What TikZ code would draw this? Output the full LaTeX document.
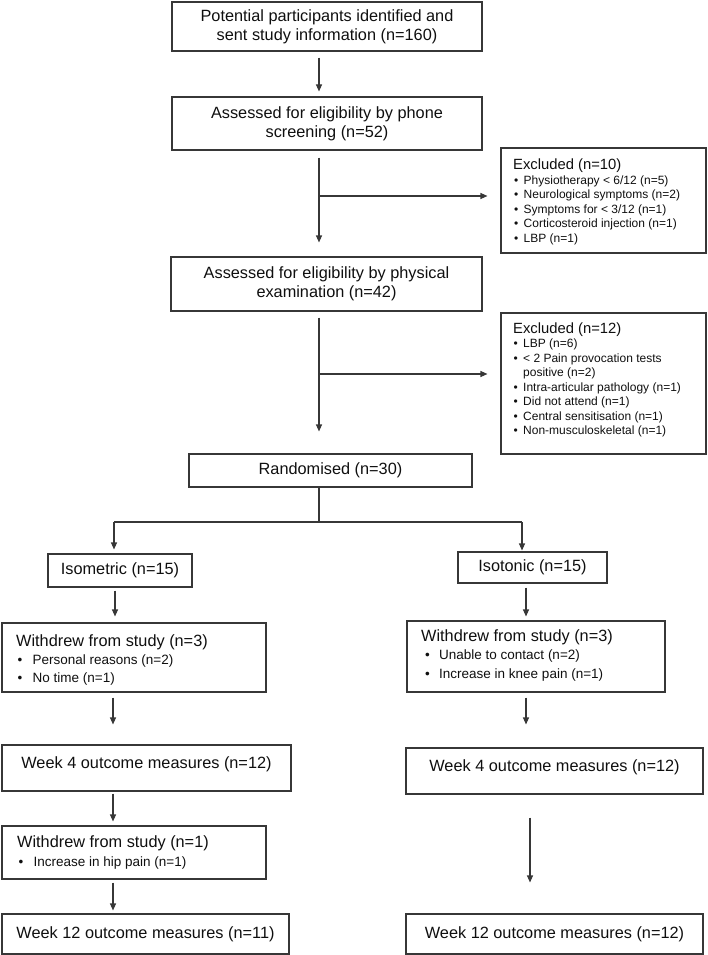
\documentclass[tikz,border=0pt]{standalone}
\usepackage{fontspec}
\setmainfont{Liberation Sans}
\usetikzlibrary{arrows.meta}
\definecolor{lc}{RGB}{55,55,55}
\definecolor{tc}{RGB}{15,15,15}
\tikzset{
  box/.style={draw=lc, line width=1.1pt, inner sep=0pt, align=center, text=tc,
    font=\fontsize{16.3}{19}\selectfont},
  ln/.style={draw=lc, line width=1.1pt},
  arr/.style={ln, -{Triangle[length=7pt,width=6pt]}},
  hdA/.style={inner sep=0pt, anchor=base west, text=tc, font=\fontsize{14.8}{17}\selectfont},
  blA/.style={inner sep=0pt, anchor=base west, text=tc, font=\fontsize{12}{14}\selectfont},
  hdB/.style={inner sep=0pt, anchor=base west, text=tc, font=\fontsize{16.3}{19}\selectfont},
  blB/.style={inner sep=0pt, anchor=base west, text=tc, font=\fontsize{13.5}{16}\selectfont},
  wk/.style={text height=12pt, text depth=12pt}
}
\newcommand\fbx[7][]{\node[box,#1,minimum width={(#5-#3)*1pt},minimum height={(#6-#4)*1pt}] (#2) at ({(#3+#5)/2},{(#4+#6)/2}) {#7};}
\newcommand\bulA[1]{\makebox[9.5pt][l]{\textbullet}#1}
\newcommand\bulB[1]{\makebox[15pt][l]{\textbullet}#1}
\begin{document}
\begin{tikzpicture}[x=1pt,y=-1pt]
\useasboundingbox (0,0) rectangle (708,955);
% boxes
\fbx{b1}{172}{2}{482}{51}{Potential participants identified and\\sent study information (n=160)}
\fbx{b2}{172}{97}{482}{150}{Assessed for eligibility by phone\\screening (n=52)}
\fbx{ex1}{501}{148}{706}{253}{}
\fbx{b3}{171}{257}{482}{311}{Assessed for eligibility by physical\\examination (n=42)}
\fbx{ex2}{501}{313}{706}{454}{}
\fbx{rand}{189}{454}{472}{487}{Randomised (n=30)}
\fbx{isom}{48}{554}{192}{587}{Isometric (n=15)}
\fbx{isot}{458}{552}{607}{583}{Isotonic (n=15)}
\fbx{wd1}{2}{623}{266}{692}{}
\fbx{wd2}{407}{621}{665}{692}{}
\fbx[wk]{w4l}{2}{745}{291}{791}{Week 4 outcome measures (n=12)}
\fbx[wk]{w4r}{406}{748}{703}{794}{Week 4 outcome measures (n=12)}
\fbx{wd3}{2}{826}{266}{879}{}
\fbx{w12l}{2}{914}{289}{954}{Week 12 outcome measures (n=11)}
\fbx{w12r}{406}{914}{703}{954}{Week 12 outcome measures (n=12)}
% excluded 1 text
\node[hdA] (ex1h) at (513,169) {Excluded (n=10)};
\node[blA] (ex1a) at (514,184) {\bulA{Physiotherapy < 6/12 (n=5)}};
\node[blA] (ex1b) at (514,198.6) {\bulA{Neurological symptoms (n=2)}};
\node[blA] (ex1c) at (514,213.2) {\bulA{Symptoms for < 3/12 (n=1)}};
\node[blA] (ex1d) at (514,227.8) {\bulA{Corticosteroid injection (n=1)}};
\node[blA] (ex1e) at (514,242.4) {\bulA{LBP (n=1)}};
% excluded 2 text
\node[hdA] (ex2h) at (513,333.5) {Excluded (n=12)};
\node[blA] (ex2a) at (513.5,347.5) {\bulA{LBP (n=6)}};
\node[blA] (ex2b) at (513.5,362) {\bulA{< 2 Pain provocation tests}};
\node[blA] (ex2c) at (513.5,376.5) {\hspace*{9.5pt}positive (n=2)};
\node[blA] (ex2d) at (513.5,391) {\bulA{Intra-articular pathology (n=1)}};
\node[blA] (ex2e) at (513.5,405.5) {\bulA{Did not attend (n=1)}};
\node[blA] (ex2f) at (513.5,420) {\bulA{Central sensitisation (n=1)}};
\node[blA] (ex2g) at (513.5,434.5) {\bulA{Non-musculoskeletal (n=1)}};
% withdrew texts
\node[hdB] (wd1h) at (16,646) {Withdrew from study (n=3)};
\node[blB] (wd1a) at (17.5,664) {\bulB{Personal reasons (n=2)}};
\node[blB] (wd1b) at (17.5,682) {\bulB{No time (n=1)}};
\node[hdB] (wd2h) at (421,641) {Withdrew from study (n=3)};
\node[blB] (wd2a) at (425,659.5) {\makebox[14pt][l]{\textbullet}Unable to contact (n=2)};
\node[blB] (wd2b) at (425,678) {\makebox[14pt][l]{\textbullet}Increase in knee pain (n=1)};
\node[hdB] (wd3h) at (17,847) {Withdrew from study (n=1)};
\node[blB] (wd3a) at (18.5,866) {\bulB{Increase in hip pain (n=1)}};
% connectors
\coordinate (cx) at (319,0);
\draw[arr, shorten <=6pt, shorten >=5pt] (b1.south -| cx) -- (b2.north -| cx);
\draw[arr, shorten <=7pt, shorten >=14pt] (b2.south -| cx) -- (b3.north -| cx);
\coordinate (j1) at (319,196);
\draw[arr, shorten >=13pt] (j1) -- (j1 -| ex1.west);
\draw[arr, shorten <=6pt, shorten >=22pt] (b3.south -| cx) -- (rand.north -| cx);
\coordinate (j2) at (319,374);
\draw[arr, shorten >=13pt] (j2) -- (j2 -| ex2.west);
\coordinate (sl) at (114,522);
\coordinate (sr) at (522,522);
\draw[ln] (rand.south -| cx) -- (cx |- sl);
\draw[ln] (sl) -- (sr);
\draw[arr, shorten >=4pt] (sl) -- (sl |- isom.north);
\draw[arr, shorten >=1pt] (sr) -- (sr |- isot.north);
\coordinate (xl1) at (115,0);
\coordinate (xl2) at (113,0);
\coordinate (xr1) at (526,0);
\coordinate (xr2) at (530,0);
\draw[arr, shorten <=3pt, shorten >=6pt] (isom.south -| xl1) -- (wd1.north -| xl1);
\draw[arr, shorten <=4pt, shorten >=4pt] (isot.south -| xr1) -- (wd2.north -| xr1);
\draw[arr, shorten <=5pt, shorten >=20pt] (wd1.south -| xl2) -- (w4l.north -| xl2);
\draw[arr, shorten <=5pt, shorten >=23pt] (wd2.south -| xr1) -- (w4r.north -| xr1);
\draw[arr, shorten <=2pt, shorten >=4pt] (w4l.south -| xl2) -- (wd3.north -| xl2);
\draw[arr, shorten <=3pt, shorten >=3pt] (wd3.south -| xl2) -- (w12l.north -| xl2);
\draw[arr, shorten <=23pt, shorten >=31pt] (w4r.south -| xr2) -- (w12r.north -| xr2);
\end{tikzpicture}
\end{document}
